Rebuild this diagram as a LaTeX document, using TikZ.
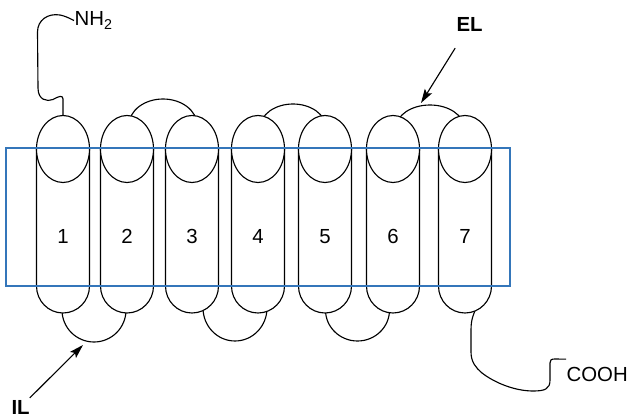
\documentclass[tikz,border=0pt]{standalone}
\usepackage{fontspec}
\setmainfont{Liberation Sans}
\usetikzlibrary{arrows.meta}
\definecolor{membraneblue}{RGB}{52,118,186}

\begin{document}
\begin{tikzpicture}[
		    x=0.025cm, y=-0.025cm,
		    line width=0.8pt,
		    helix/.style={draw=black, fill=white},
		    membrane/.style={draw=membraneblue, line width=0.9pt},
		    pointer/.style={draw=black, -{Stealth[length=10pt, width=6pt, inset=2pt]}},
		    every node/.style={font=\fontsize{14.5}{17}\selectfont, inner sep=0pt}
		]
		    \useasboundingbox (0,0) rectangle (630,419);

		    \node[anchor=base west] (nh) at (74,26) {NH\textsubscript{2}};
		    \node[anchor=base west] (cooh) at (566,381) {COOH};
		    \node[anchor=base west, font=\fontsize{14.5}{17}\selectfont\bfseries] (el) at (456,32) {EL};
		    \node[anchor=base west, font=\fontsize{14.5}{17}\selectfont\bfseries] (il) at (11,414) {IL};

		    \coordinate (top1) at (63,118);
		    \coordinate (bot7) at (477,305);
		    \coordinate (elTip) at (421,103);
		    \coordinate (ilTip) at (83,345);

		    \foreach \cx/\cy/\rx/\ry in {163/125/34/26, 293/128/33/24, 430/128/34/23} {
			\draw (\cx-\rx,\cy) arc[start angle=180, end angle=360, x radius=\rx, y radius=\ry];
		    }
		    \foreach \cx/\cy/\rx/\ry in {94/310/32/32, 235/308/32/33, 357.5/310/32/31} {
			\draw (\cx-\rx,\cy) arc[start angle=180, end angle=0, x radius=\rx, y radius=\ry];
		    }

		    \draw (top1) -- (63,99) .. controls (63,95) and (59,96) .. (53,99.5)
			.. controls (47,102) and (38,100) .. (38,88) -- (37.5,32)
			.. controls (37.5,20) and (48,13) .. (60,15)
			.. controls (65,16) and (69,18) .. (nh.west);
		    \draw (bot7) .. controls (474,314) and (471,318) .. (471,330) -- (471,352)
			.. controls (471,362) and (476,368) .. (482,373)
			.. controls (495,383) and (515,391) .. (533,391)
			.. controls (545,391) and (550,389) .. (550,380) -- (550,363)
			.. controls (550,360) and (551,359) .. (555,359) -- ([yshift=5pt]cooh.north west);

		    \foreach \x/\n in {63/1, 127/2, 192/3, 258/4, 325/5, 393/6, 465/7} {
			\path[helix] (\x-26.5,149) -- (\x-26.5,286)
			    arc[start angle=180, end angle=0, x radius=26.5, y radius=27] -- (\x+26.5,149);
			\path[helix] (\x,149) ellipse[x radius=26.5, y radius=33.5];
			\node[anchor=base] (num\n) at (\x,243) {\n};
		    }

		    \draw[membrane] (6,148) rectangle (510,286);

		    \draw[pointer, shorten <=13pt] (el) -- (elTip);
		    \draw[pointer, shorten <=1.5pt] (il) -- (ilTip);
		\end{tikzpicture}
\end{document}
